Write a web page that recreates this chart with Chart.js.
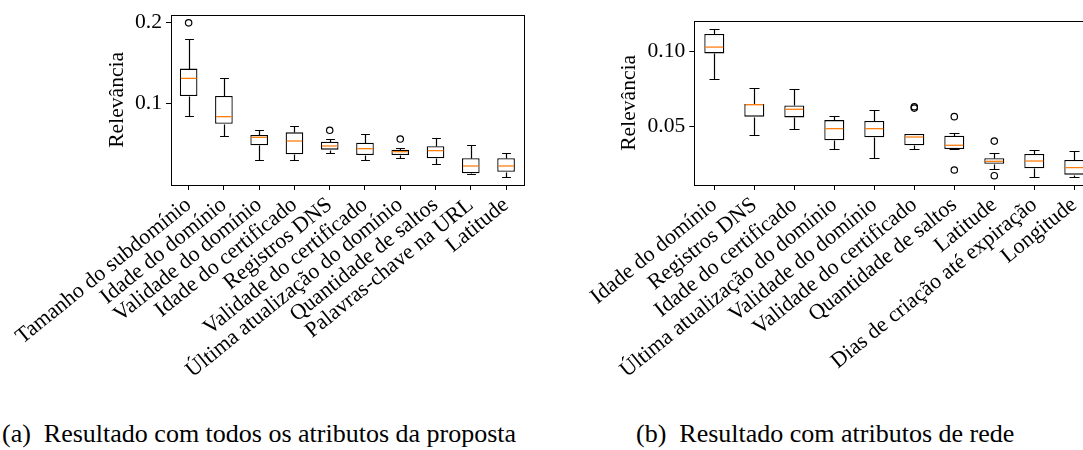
<!DOCTYPE html>
<html>
<head>
<meta charset="utf-8">
<script src="https://cdn.jsdelivr.net/npm/chart.js@4/dist/chart.umd.min.js"></script>
<style>
  body { margin: 0; width: 1083px; height: 450px; overflow: hidden; position: relative; background: #fff; }
  canvas { position: absolute; top: 0; }
  #chartA { left: 0; }
  #chartB { left: 560px; }
  .caption { position: absolute; top: 421px; font-family: 'Liberation Serif', 'Times New Roman', serif; font-size: 26px; line-height: 26px; color: #000; white-space: nowrap; }
  .caption span { margin-right: 13px; }
</style>
</head>
<body>
<canvas id="chartA" width="560" height="410"></canvas>
<canvas id="chartB" width="560" height="410"></canvas>
<div class="caption" style="left:2px"><span>(a)</span>Resultado com todos os atributos da proposta</div>
<div class="caption" style="left:636px"><span>(b)</span>Resultado com atributos de rede</div>
<script>
// (a) todos os atributos
const labelsA = ['Tamanho do subdomínio', 'Idade do domínio', 'Validade do domínio', 'Idade do certificado',
  'Registros DNS', 'Validade do certificado', 'Última atualização do domínio', 'Quantidade de saltos',
  'Palavras-chave na URL', 'Latitude'];
const loA  = [0.0849, 0.0604, 0.0306, 0.0306, 0.0396, 0.0306, 0.0331, 0.0257, 0.0143, 0.0098];
const q1A  = [0.1094, 0.0755, 0.0490, 0.0380, 0.0437, 0.0371, 0.0371, 0.0331, 0.0147, 0.0167];
const medA = [0.1310, 0.0841, 0.0588, 0.0543, 0.0482, 0.0449, 0.0412, 0.0425, 0.0237, 0.0237];
const q3A  = [0.1430, 0.1094, 0.0616, 0.0649, 0.0535, 0.0522, 0.0437, 0.0478, 0.0331, 0.0331];
const hiA  = [0.1790, 0.1310, 0.0678, 0.0723, 0.0563, 0.0625, 0.0461, 0.0576, 0.0498, 0.0392];
const outA = [[0.199], [], [], [], [0.0674], [], [0.0567], [], [], []];
const ticksA = [0.1, 0.2];

// (b) atributos de rede
const labelsB = ['Idade do domínio', 'Registros DNS', 'Idade do certificado', 'Última atualização do domínio',
  'Validade do domínio', 'Validade do certificado', 'Quantidade de saltos', 'Latitude',
  'Dias de criação até expiração', 'Longitude'];
const loB  = [0.0816, 0.0444, 0.0484, 0.0351, 0.0289, 0.0351, 0.0349, 0.0218, 0.0167, 0.0162];
const q1B  = [0.0989, 0.0567, 0.0562, 0.0409, 0.0429, 0.0376, 0.0351, 0.0253, 0.0222, 0.0180];
const medB = [0.1031, 0.0647, 0.0616, 0.0487, 0.0487, 0.0431, 0.0376, 0.0269, 0.0271, 0.0227];
const q3B  = [0.1118, 0.0651, 0.0642, 0.0544, 0.0538, 0.0451, 0.0440, 0.0289, 0.0318, 0.0278];
const hiB  = [0.1153, 0.0758, 0.0753, 0.0573, 0.0609, 0.0451, 0.0456, 0.0322, 0.0347, 0.0336];
const outB = [[], [], [], [], [], [0.0633, 0.0624], [0.0567, 0.0211], [0.0404, 0.0173], [], []];
const ticksB = [0.05, 0.10];

const FONT = "'Liberation Serif', 'Times New Roman', serif";

// whiskers, caps and medians
const boxParts = {
  id: 'boxParts',
  afterDatasetsDraw(chart, args, o) {
    const { ctx, scales: { x, y } } = chart;
    const bars = chart.getDatasetMeta(0).data;
    ctx.save();
    bars.forEach((bar, i) => {
      const cx = Math.round(x.getPixelForValue(i)) + 0.5;
      const cap = bar.width / 4;
      const py = v => Math.round(y.getPixelForValue(v)) + 0.5;
      ctx.strokeStyle = '#000';
      ctx.lineWidth = 1.2;
      ctx.beginPath();
      ctx.moveTo(cx, py(o.q3[i])); ctx.lineTo(cx, py(o.hi[i]));
      ctx.moveTo(cx - cap, py(o.hi[i])); ctx.lineTo(cx + cap, py(o.hi[i]));
      ctx.moveTo(cx, py(o.q1[i])); ctx.lineTo(cx, py(o.lo[i]));
      ctx.moveTo(cx - cap, py(o.lo[i])); ctx.lineTo(cx + cap, py(o.lo[i]));
      ctx.stroke();
      ctx.strokeStyle = '#ff7f0e';
      ctx.lineWidth = 1.3;
      ctx.beginPath();
      ctx.moveTo(bar.x - bar.width / 2 + 1, y.getPixelForValue(o.med[i]));
      ctx.lineTo(bar.x + bar.width / 2 - 1, y.getPixelForValue(o.med[i]));
      ctx.stroke();
    });
    const a = chart.chartArea;
    ctx.strokeStyle = '#000';
    ctx.lineWidth = 1;
    ctx.strokeRect(Math.round(a.left) + 0.5, Math.round(a.top) + 0.5,
      Math.round(a.right - a.left), Math.round(a.bottom - a.top));
    ctx.restore();
  }
};

function makeBox(id, labels, lo, q1, med, q3, hi, outs, yTicks, yMin, yMax, area, titlePad, fmt) {
  const outliers = [];
  outs.forEach((vals, i) => vals.forEach(v => outliers.push({ x: labels[i], y: v })));
  return new Chart(document.getElementById(id), {
    type: 'bar',
    data: {
      labels: labels,
      datasets: [{
        data: q1.map((v, i) => [v, q3[i]]),
        backgroundColor: '#fff',
        borderColor: '#000',
        borderWidth: 1.3,
        borderSkipped: false,
        barPercentage: 0.5,
        categoryPercentage: 1
      }, {
        type: 'line',
        data: outliers,
        showLine: false,
        pointRadius: 3.2,
        pointBorderWidth: 1.2,
        pointBorderColor: '#000',
        pointBackgroundColor: 'rgba(0,0,0,0)'
      }]
    },
    options: {
      responsive: false,
      animation: false,
      layout: { padding: { left: 0, top: area.top, right: 560 - area.right, bottom: 0 } },
      plugins: {
        legend: { display: false },
        tooltip: { enabled: false },
        boxParts: { lo, q1, med, q3, hi }
      },
      scales: {
        x: {
          offset: true,
          border: { display: false },
          grid: { offset: false, drawOnChartArea: false, tickLength: 5, tickColor: '#000' },
          ticks: {
            autoSkip: false, minRotation: 39, maxRotation: 39, padding: 2,
            color: '#000', font: { family: FONT, size: 22 }
          },
          afterFit(s) { s.height = 410 - area.bottom; s.paddingLeft = 0; s.paddingRight = 0; }
        },
        y: {
          min: yMin,
          max: yMax,
          border: { display: false },
          grid: { drawOnChartArea: false, tickLength: 5, tickColor: '#000' },
          ticks: {
            padding: 4, color: '#000', font: { family: FONT, size: 21.6 },
            callback: v => fmt(v)
          },
          afterBuildTicks(s) { s.ticks = yTicks.map(v => ({ value: v })); },
          title: {
            display: true, text: 'Relevância', color: '#000',
            font: { family: FONT, size: 21.6 }, padding: { top: titlePad, bottom: 0 }
          },
          afterFit(s) { s.width = area.left; s.paddingTop = 0; s.paddingBottom = 0; }
        }
      }
    },
    plugins: [boxParts]
  });
}

makeBox('chartA', labelsA, loA, q1A, medA, q3A, hiA, outA, ticksA, 0.0004, 0.209,
  { left: 171, top: 14.7, right: 523.7, bottom: 185 }, 104.5, v => v.toFixed(1));
makeBox('chartB', labelsB, loB, q1B, medB, q3B, hiB, outB, ticksB, 0.0111, 0.1207,
  { left: 134.3, top: 20.7, right: 534.3, bottom: 185 }, 56, v => v.toFixed(2));
</script>
</body>
</html>
